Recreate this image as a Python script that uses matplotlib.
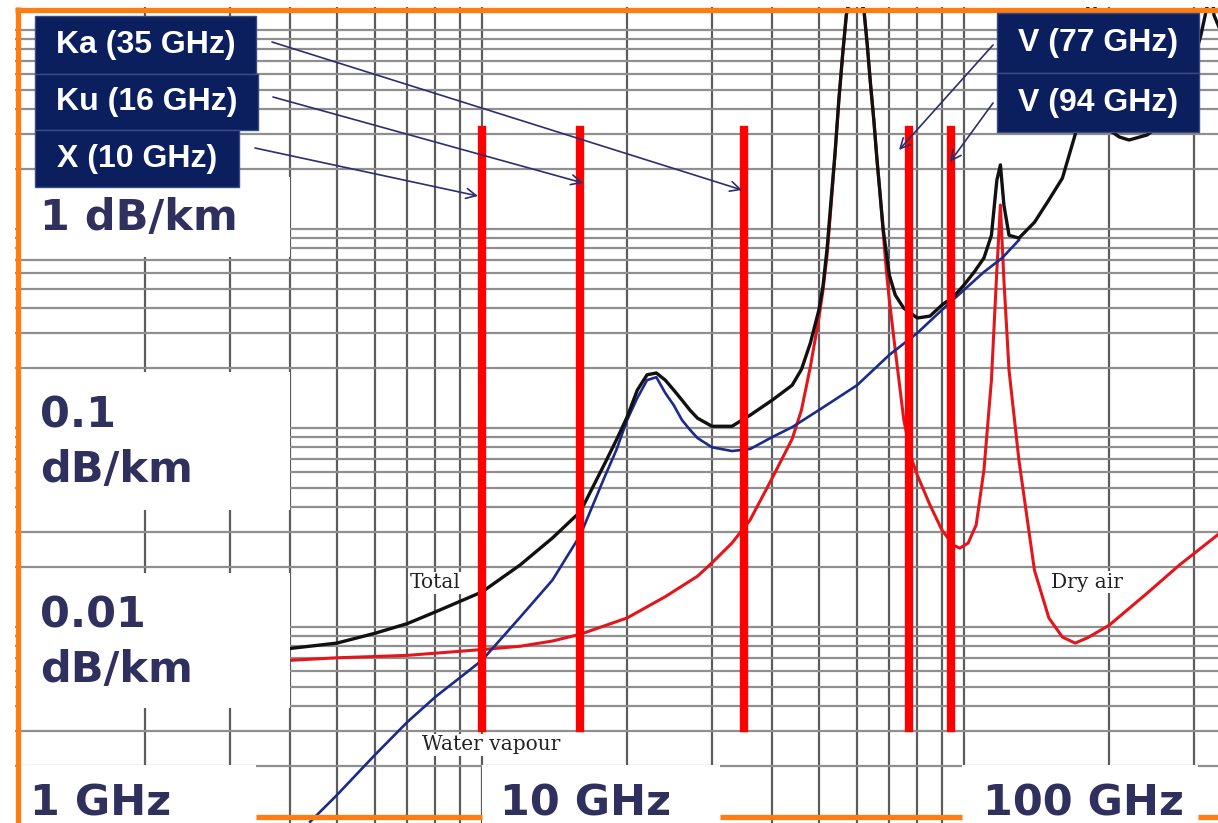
import numpy as np
import matplotlib.pyplot as plt
from matplotlib.patches import Rectangle

W, H = 1218, 823

# specific attenuation in dB/km, frequency in GHz
total_freq = [4, 5, 6, 7, 8, 10, 12, 14, 16, 18, 19, 20, 21, 22, 23, 24, 25, 26, 27, 28, 30,
              33, 36, 40, 44, 46, 48, 50, 51, 52, 53, 54, 55, 56, 57, 58, 60, 62, 63, 64,
              65, 66, 67, 68, 70, 72, 75, 80, 85, 90, 95, 100, 105, 110, 114, 117, 119,
              121, 124, 130, 140, 150, 160, 170, 175, 180, 183, 190, 200, 210, 220, 240,
              260, 280, 300, 310, 320, 325, 330, 340]
total_att = [0.0078, 0.0083, 0.0093, 0.0104, 0.0119, 0.015, 0.0205, 0.028, 0.038, 0.0667,
             0.087, 0.1135, 0.155, 0.185, 0.189, 0.174, 0.155, 0.138, 0.123, 0.112, 0.102,
             0.102, 0.116, 0.138, 0.164, 0.197, 0.267, 0.392, 0.52, 0.8, 1.4, 2.4, 4.45,
             7.5, 11.9, 14.5, 16, 12.6, 8.4, 5.3, 3.53, 2.22, 1.48, 0.99, 0.587, 0.466,
             0.4, 0.357, 0.365, 0.415, 0.455, 0.523, 0.608, 0.715, 0.93, 1.76, 2.1,
             1.32, 0.93, 0.9, 1.08, 1.4, 1.8, 2.97, 5.0, 10, 30, 7.1, 3.15, 2.9, 2.8, 2.97,
             3.45, 4.7, 7.1, 9.4, 13.4, 20, 11.9, 10]

water_freq = [4.4, 5, 6, 7, 8, 10, 12, 14, 16, 18, 19, 20, 21, 22, 23, 24, 25, 26, 27, 28,
              30, 33, 36, 40, 44, 50, 60, 70, 80, 90, 100, 110, 120, 130]
water_att = [0.00105, 0.00143, 0.00228, 0.00333, 0.00445, 0.0068, 0.0112, 0.0172, 0.029,
             0.0574, 0.0775, 0.1096, 0.1415, 0.174, 0.18, 0.15, 0.13, 0.1096, 0.098, 0.089,
             0.08, 0.0766, 0.0784, 0.09, 0.101, 0.123, 0.164, 0.233, 0.30, 0.392, 0.494,
             0.608, 0.715, 0.88]

dry_freq = [4, 5, 7, 10, 12, 14, 16, 20, 24, 28, 30, 33, 36, 40, 44, 46, 48, 50, 51, 52,
            53, 54, 55, 56, 57, 58, 60, 62, 63, 64, 65, 66, 67, 68, 69, 70, 72, 75, 78, 80,
            85, 90, 95, 98, 102, 106, 110, 114, 117, 119, 121, 124, 130, 140, 150, 160,
            170, 180, 200, 240, 280, 340]
dry_att = [0.0068, 0.007, 0.0072, 0.0077, 0.008, 0.0085, 0.0092, 0.0111, 0.0142, 0.018,
           0.021, 0.0264, 0.0345, 0.056, 0.088, 0.123, 0.203, 0.357, 0.494, 0.74,
           1.32, 2.36, 4.45, 7.5, 11.9, 14.5, 15.5, 12.6, 8.4, 5.3, 3.53, 2.22, 1.48, 0.95,
           0.62, 0.44, 0.247, 0.11, 0.069, 0.058, 0.041, 0.0307, 0.0258, 0.0249, 0.0264,
           0.0326, 0.0615, 0.174, 0.622, 1.32, 0.554, 0.195, 0.069, 0.0193, 0.0111,
           0.0089, 0.0083, 0.0088, 0.0102, 0.0148, 0.0205, 0.0297]

bands = ['X (10 GHz)', 'Ku (16 GHz)', 'Ka (35 GHz)', 'V (77 GHz)', 'V (94 GHz)']
band_freq = [10, 16, 35, 77, 94]


def fig_xy(px, py):
    # pixel position on the slide -> figure fraction
    return px / W, 1 - py / H


fig = plt.figure(figsize=(W / 100, H / 100), dpi=100)
ax = fig.add_axes([0, 0, 1, 1])
ax.set_xscale('log')
ax.set_yscale('log')
ax.set_xlim(1, 336.5)
ax.set_ylim(1.035e-3, 14.15)
ax.grid(True, which='both', axis='x', color='#5c5c5c', lw=1.6, zorder=0)
ax.grid(True, which='both', axis='y', color='#8f8f8f', lw=1.6, zorder=0)
ax.tick_params(which='both', length=0, labelleft=False, labelbottom=False)
for s in ax.spines.values():
    s.set_visible(False)

ax.plot(dry_freq, dry_att, color='#e3161c', lw=2.2, zorder=3)
ax.plot(water_freq, water_att, color='#1c2a8c', lw=1.9, zorder=3)
ax.plot(total_freq, total_att, color='#111111', lw=2.4, zorder=4)

for f in band_freq:
    ax.axvline(f, ymin=1 - 728 / H, ymax=1 - 130 / H, color='#ff0000', lw=6, zorder=5)

# curve captions from the original chart
for txt, px, py in [('Total', 435, 583), ('Water vapour', 491, 745), ('Dry air', 1087, 582)]:
    x, y = fig_xy(px, py)
    ax.text(x, y, txt, transform=fig.transFigure, ha='center', va='center',
            family='DejaVu Serif', fontsize=14.5, color='#222222', zorder=6,
            bbox=dict(facecolor='white', edgecolor='none', pad=1))

tf = fig.transFigure

# white patches behind the axis captions
for (x0, y0, x1, y1) in [(20, 177, 290, 257), (20, 372, 290, 510), (20, 573, 290, 708),
                         (20, 765, 256, 823), (482, 765, 720, 823), (962, 765, 1198, 823)]:
    ax.add_patch(Rectangle((x0 / W, 1 - y1 / H), (x1 - x0) / W, (y1 - y0) / H,
                           transform=tf, facecolor='white', edgecolor='none', zorder=10,
                           clip_on=False))

# slide frame: white margin + orange lines
ax.add_patch(Rectangle((0, 0), 15 / W, 1, transform=tf, facecolor='white',
                       edgecolor='none', zorder=10, clip_on=False))
ax.add_patch(Rectangle((0, 1 - 7 / H), 1, 7 / H, transform=tf, facecolor='white',
                       edgecolor='none', zorder=10, clip_on=False))
orange = '#ff7c10'
ax.plot([17.5 / W, 17.5 / W], [0, 1 - 7 / H], transform=tf, color=orange, lw=3.8, zorder=11,
        solid_capstyle='butt', clip_on=False)
ax.plot([15 / W, 1], [1 - 9.5 / H, 1 - 9.5 / H], transform=tf, color=orange, lw=3.8, zorder=11,
        solid_capstyle='butt', clip_on=False)
for x0, x1 in [(256, 482), (720, 962), (1198, 1218)]:
    ax.plot([x0 / W, x1 / W], [1 - 817 / H] * 2, transform=tf, color=orange, lw=3.8,
            zorder=11, solid_capstyle='butt', clip_on=False)

# axis captions
label_col = '#30305f'
for txt, px, py in [('1 dB/km', 40, 218), ('0.1', 40, 415), ('dB/km', 40, 470),
                    ('0.01', 40, 615), ('dB/km', 40, 670), ('1 GHz', 30, 803),
                    ('10 GHz', 500, 803), ('100 GHz', 983, 803)]:
    x, y = fig_xy(px, py)
    ax.text(x, y, txt, transform=tf, ha='left', va='center', fontsize=31,
            fontweight='bold', color=label_col, zorder=12)

# band boxes with arrows
navy = '#0b1f5e'
boxes = [('Ka (35 GHz)', 35, 16, 256, 74, (272, 42), (742, 190)),
         ('Ku (16 GHz)', 35, 74, 258, 130, (273, 97), (583, 183)),
         ('X (10 GHz)', 35, 130, 239, 187, (255, 148), (478, 196)),
         ('V (77 GHz)', 997, 13, 1199, 73, (993, 45), (899, 150)),
         ('V (94 GHz)', 997, 73, 1199, 132, (993, 103), (950, 162))]
for txt, x0, y0, x1, y1, tail, head in boxes:
    ax.add_patch(Rectangle((x0 / W, 1 - y1 / H), (x1 - x0) / W, (y1 - y0) / H,
                           transform=tf, facecolor=navy, edgecolor='#3b4a82', lw=1,
                           zorder=13, clip_on=False))
    x, y = fig_xy((x0 + x1) / 2, (y0 + y1) / 2)
    ax.text(x, y, txt, transform=tf, ha='center', va='center', fontsize=23,
            fontweight='bold', family='Liberation Sans', color='white', zorder=14)
    ax.annotate('', xy=fig_xy(*head), xytext=fig_xy(*tail), xycoords=tf, textcoords=tf,
                arrowprops=dict(arrowstyle='->', color='#2c2f6e', lw=1.2,
                                mutation_scale=18, shrinkA=0, shrinkB=0), zorder=15)

fig.savefig('out.png', dpi=100)
